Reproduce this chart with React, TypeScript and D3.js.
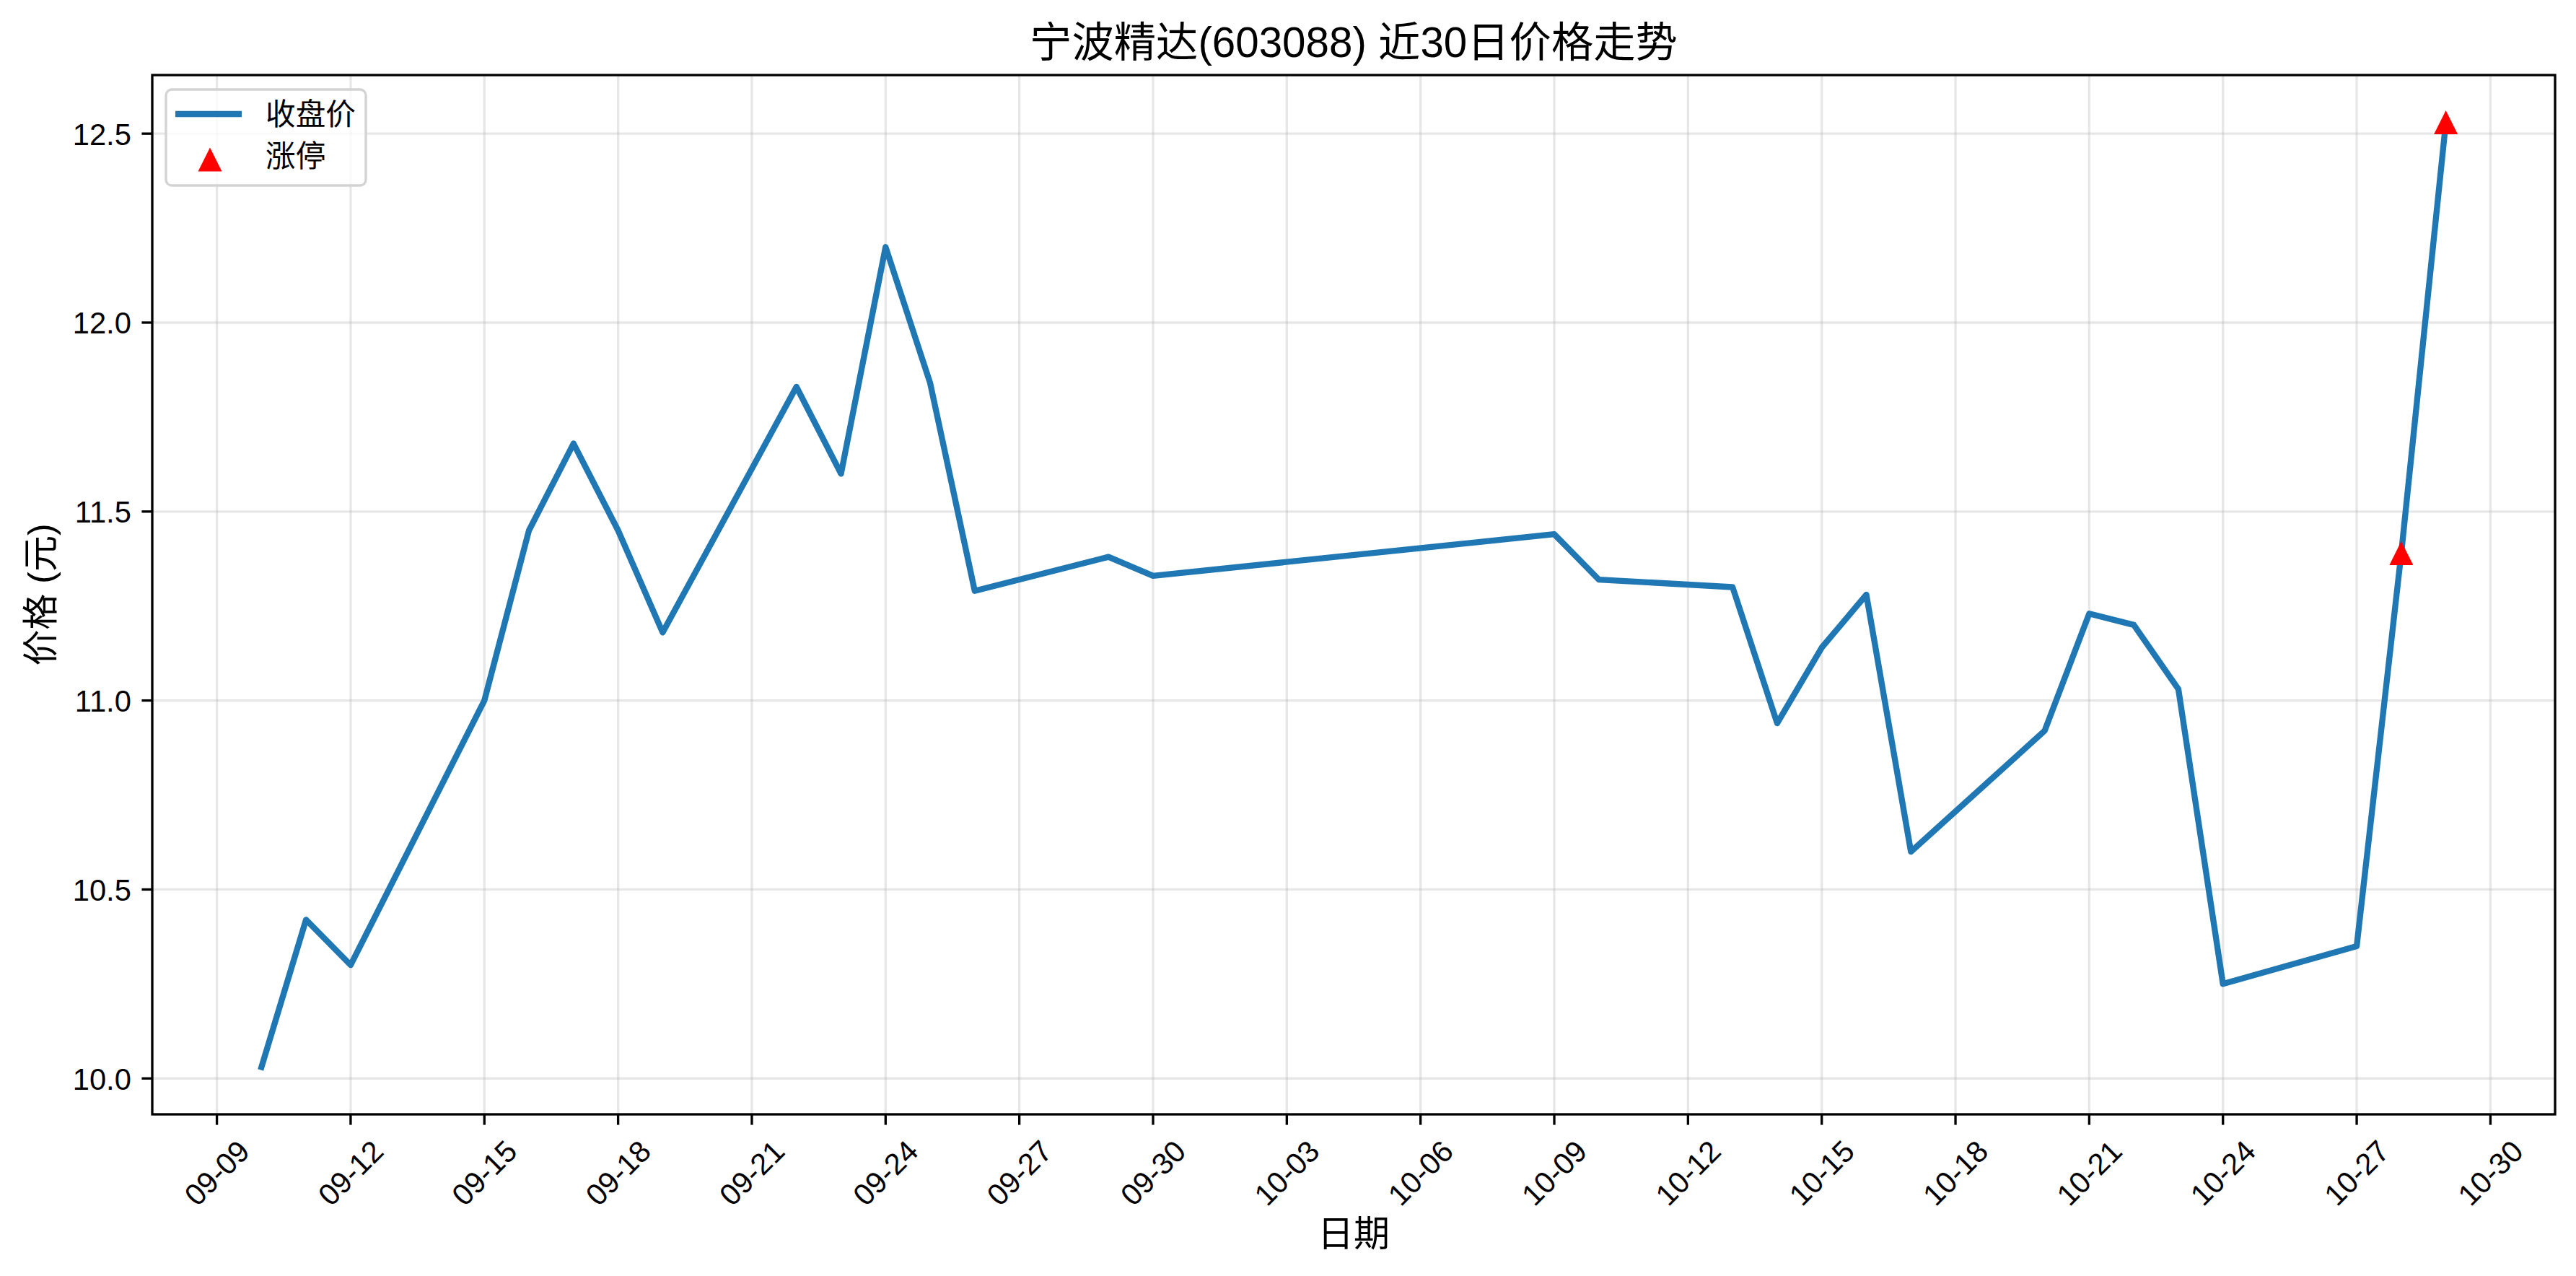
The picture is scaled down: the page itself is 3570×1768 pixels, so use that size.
import React, { useEffect } from 'react';
import * as d3 from 'd3';

const dates: string[] = [
  '2025-09-10', '2025-09-11', '2025-09-12', '2025-09-15', '2025-09-16', '2025-09-17',
  '2025-09-18', '2025-09-19', '2025-09-22', '2025-09-23', '2025-09-24', '2025-09-25',
  '2025-09-26', '2025-09-29', '2025-09-30', '2025-10-09', '2025-10-10', '2025-10-13',
  '2025-10-14', '2025-10-15', '2025-10-16', '2025-10-17', '2025-10-20', '2025-10-21',
  '2025-10-22', '2025-10-23', '2025-10-24', '2025-10-27', '2025-10-28', '2025-10-29',
];
const closes: number[] = [
  10.03, 10.42, 10.30, 11.00, 11.45, 11.68,
  11.45, 11.18, 11.83, 11.60, 12.20, 11.84,
  11.29, 11.38, 11.33, 11.44, 11.32, 11.30,
  10.94, 11.14, 11.28, 10.60, 10.92, 11.23,
  11.20, 11.03, 10.25, 10.35, 11.39, 12.53,
];
const limitUpDates: string[] = ['2025-10-28', '2025-10-29'];
const xTickDates: string[] = [
  '2025-09-09', '2025-09-12', '2025-09-15', '2025-09-18', '2025-09-21', '2025-09-24',
  '2025-09-27', '2025-09-30', '2025-10-03', '2025-10-06', '2025-10-09', '2025-10-12',
  '2025-10-15', '2025-10-18', '2025-10-21', '2025-10-24', '2025-10-27', '2025-10-30',
];
const yTicks: number[] = [10.0, 10.5, 11.0, 11.5, 12.0, 12.5];
const titleText = '宁波精达(603088) 近30日价格走势';
const xLabelText = '日期';
const yLabelText = '价格 (元)';
const legendLabels: string[] = ['收盘价', '涨停'];

const W = 3570;
const H = 1768;
const plot = { left: 211, right: 3541, top: 104, bottom: 1544 };
const FONT = "'Liberation Sans', Arial, 'Noto Sans CJK SC', sans-serif";
const LINE_COLOR = '#1f77b4';
const pt = 300 / 72;

const parse = d3.utcParse('%Y-%m-%d');
const fmtTick = d3.utcFormat('%m-%d');
const fmtKey = d3.utcFormat('%Y-%m-%d');

export default function App() {
  useEffect(() => {
    document.body.style.margin = '0';
  }, []);

  const pts = dates.map((d, i) => ({ date: parse(d) as Date, v: closes[i] }));
  const limitPts = pts.filter((p) => limitUpDates.includes(fmtKey(p.date)));

  const [x0, x1] = d3.extent(pts, (p) => +p.date) as [number, number];
  const xPad = (x1 - x0) * 0.05;
  const x = d3.scaleUtc().domain([new Date(x0 - xPad), new Date(x1 + xPad)]).range([plot.left, plot.right]);

  const [y0, y1] = d3.extent(pts, (p) => p.v) as [number, number];
  const yPad = (y1 - y0) * 0.05;
  const y = d3.scaleLinear().domain([y0 - yPad, y1 + yPad]).range([plot.bottom, plot.top]);

  const line = d3.line<{ date: Date; v: number }>().x((p) => x(p.date)).y((p) => y(p.v));

  const tri = (s: number) => `M0,${-s / 2}L${s / 2},${s / 2}L${-s / 2},${s / 2}Z`;
  const triSize = 33;

  const tickFont = 10 * pt;
  const labelFont = 12 * pt;
  const titleFont = 14 * pt;
  const tickLen = 3.5 * pt;
  const spineW = 0.8 * pt;

  const cx = (plot.left + plot.right) / 2;
  const cy = (plot.top + plot.bottom) / 2;

  return (
    <svg width={W} height={H} style={{ display: 'block', background: '#fff' }} fontFamily={FONT}>
      <rect x={0} y={0} width={W} height={H} fill="#fff" />
      {/* grid */}
      <g stroke="#b0b0b0" strokeOpacity={0.3} strokeWidth={0.8 * pt}>
        {xTickDates.map((d) => {
          const xx = x(parse(d) as Date);
          return <line key={'gx' + d} x1={xx} x2={xx} y1={plot.top} y2={plot.bottom} />;
        })}
        {yTicks.map((t) => (
          <line key={'gy' + t} x1={plot.left} x2={plot.right} y1={y(t)} y2={y(t)} />
        ))}
      </g>
      {/* price line */}
      <path
        d={line(pts) || ''}
        fill="none"
        stroke={LINE_COLOR}
        strokeWidth={2 * pt}
        strokeLinejoin="round"
        strokeLinecap="square"
      />
      {/* limit-up markers */}
      {limitPts.map((p, i) => (
        <path key={'m' + i} d={tri(triSize)} transform={`translate(${x(p.date)},${y(p.v)})`} fill="#ff0000" />
      ))}
      {/* spines */}
      <rect
        x={plot.left}
        y={plot.top}
        width={plot.right - plot.left}
        height={plot.bottom - plot.top}
        fill="none"
        stroke="#000"
        strokeWidth={spineW}
      />
      {/* x ticks */}
      {xTickDates.map((d) => {
        const dt = parse(d) as Date;
        const xx = x(dt);
        const ly = plot.bottom + tickLen + 3.5 * pt + 52;
        return (
          <g key={'xt' + d}>
            <line x1={xx} x2={xx} y1={plot.bottom} y2={plot.bottom + tickLen} stroke="#000" strokeWidth={spineW} />
            <text
              x={xx}
              y={ly}
              fontSize={tickFont}
              textAnchor="middle"
              dominantBaseline="central"
              transform={`rotate(-45 ${xx} ${ly})`}
              fill="#000"
            >
              {fmtTick(dt)}
            </text>
          </g>
        );
      })}
      {/* y ticks */}
      {yTicks.map((t) => (
        <g key={'yt' + t}>
          <line x1={plot.left - tickLen} x2={plot.left} y1={y(t)} y2={y(t)} stroke="#000" strokeWidth={spineW} />
          <text
            x={plot.left - tickLen - 3.5 * pt}
            y={y(t)}
            dy="0.37em"
            fontSize={tickFont}
            textAnchor="end"
            fill="#000"
          >
            {d3.format('.1f')(t)}
          </text>
        </g>
      ))}
      {/* axis labels */}
      <text x={cx} y={1710} fontSize={labelFont} textAnchor="middle" dominantBaseline="central" fill="#000">
        {xLabelText}
      </text>
      <text
        x={57}
        y={cy}
        fontSize={labelFont}
        textAnchor="middle"
        dominantBaseline="central"
        transform={`rotate(-90 57 ${cy})`}
        fill="#000"
      >
        {yLabelText}
      </text>
      {/* title */}
      <text x={cx} y={79} fontSize={titleFont} textAnchor="middle" fill="#000">
        {titleText}
      </text>
      {/* legend */}
      <g>
        <rect x={230} y={124} width={277} height={133} rx={8} ry={8} fill="#fff" fillOpacity={0.8} stroke="#d3d3d3" strokeWidth={spineW} />
        <line x1={243} x2={335} y1={158} y2={158} stroke={LINE_COLOR} strokeWidth={2 * pt} strokeLinecap="butt" />
        <text x={368} y={158} fontSize={tickFont} dominantBaseline="central" fill="#000">
          {legendLabels[0]}
        </text>
        <path d={tri(triSize)} transform="translate(291,221)" fill="#ff0000" />
        <text x={368} y={216} fontSize={tickFont} dominantBaseline="central" fill="#000">
          {legendLabels[1]}
        </text>
      </g>
    </svg>
  );
}
